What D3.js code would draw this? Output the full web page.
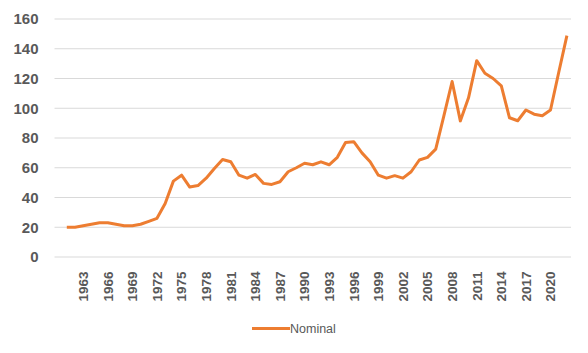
<!DOCTYPE html>
<html>
<head>
<meta charset="utf-8">
<script src="https://cdn.jsdelivr.net/npm/d3@7"></script>
<style>
  body { margin: 0; background: #fff; }
  text { font-family: "Liberation Sans", Arial, sans-serif; fill: #595959; }
</style>
</head>
<body>
<svg width="588" height="353"></svg>
<script>
const svg = d3.select("svg");

// Data
const years = d3.range(1961, 2023);
const nominal = [
  20, 20, 21, 22, 23, 23, 22, 21, 21, 22,
  24, 26, 36, 51, 55, 47, 48, 53, 59.5, 65.5,
  64, 55, 53, 55.5, 49.5, 48.8, 50.6, 57.3, 60, 63,
  62, 64, 62, 67, 77, 77.5, 70, 64, 55, 53,
  54.7, 53, 57.3, 65.2, 67, 72.5, 95, 118, 91.5, 107,
  132, 123.5, 120, 115, 93.6, 91.6, 98.8, 96, 95, 98.8,
  124, 148.8
];
const yTicks = [0, 20, 40, 60, 80, 100, 120, 140, 160];
const xTicks = d3.range(1963, 2021, 3);
const seriesName = "Nominal";

const plotLeft = 54.5, plotRight = 571, plotTop = 19, plotBottom = 257;

// Scales
const x = d3.scaleLinear().domain([1959.5, 2022.5]).range([plotLeft, plotRight]);
const y = d3.scaleLinear().domain([0, 160]).range([plotBottom, plotTop]);

// Gridlines
svg.append("g")
  .selectAll("line")
  .data(yTicks)
  .join("line")
    .attr("x1", plotLeft)
    .attr("x2", plotRight)
    .attr("y1", d => y(d))
    .attr("y2", d => y(d))
    .attr("stroke", "#d9d9d9")
    .attr("stroke-width", 1);

// Y axis labels
svg.append("g")
  .selectAll("text")
  .data(yTicks)
  .join("text")
    .attr("x", 38.5)
    .attr("y", d => y(d))
    .attr("dy", "0.36em")
    .attr("text-anchor", "end")
    .style("font-size", "15px")
    .style("font-weight", "bold")
    .text(d => d);

// X axis labels (rotated)
svg.append("g")
  .selectAll("text")
  .data(xTicks)
  .join("text")
    .attr("transform", d => `translate(${x(d)},271.5) rotate(-90)`)
    .attr("dy", "0.36em")
    .attr("text-anchor", "end")
    .style("font-size", "13.5px")
    .style("font-weight", "bold")
    .text(d => d);

// Line
const line = d3.line()
  .x((d, i) => x(years[i]))
  .y(d => y(d));

svg.append("path")
  .datum(nominal)
  .attr("fill", "none")
  .attr("stroke", "#ED7D31")
  .attr("stroke-width", 3)
  .attr("stroke-linejoin", "round")
  .attr("d", line);

// Legend
const legend = svg.append("g");
legend.append("line")
  .attr("x1", 252).attr("x2", 290)
  .attr("y1", 328.5).attr("y2", 328.5)
  .attr("stroke", "#ED7D31")
  .attr("stroke-width", 3);
legend.append("text")
  .attr("x", 290)
  .attr("y", 328.5)
  .attr("dy", "0.36em")
  .style("font-size", "12.5px")
  .text(seriesName);
</script>
</body>
</html>
